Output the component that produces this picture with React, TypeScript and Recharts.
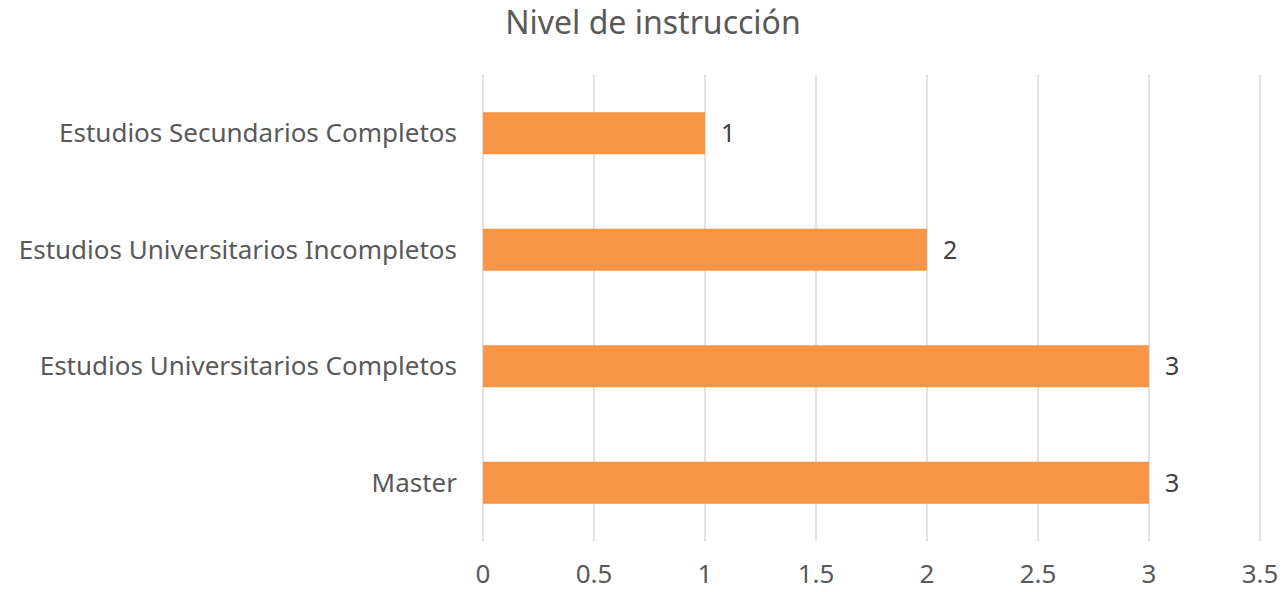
import * as React from "react"
import { BarChart, Bar, XAxis, YAxis, CartesianGrid, LabelList } from "recharts"

const CATEGORIES = [
  "Estudios Secundarios Completos",
  "Estudios Universitarios Incompletos",
  "Estudios Universitarios Completos",
  "Master",
]
const VALUES = [1, 2, 3, 3]
const X_TICKS = [0, 0.5, 1, 1.5, 2, 2.5, 3, 3.5]

const FONT = "'Noto Sans', sans-serif"

export default function App() {
  const data = CATEGORIES.map((name, i) => ({ name, value: VALUES[i] }))

  return (
    <div style={{ position: "absolute", left: 0, top: 0, width: 1286, height: 592, background: "#fff", fontFamily: FONT }}>
      <div
        style={{
          position: "absolute",
          top: 0,
          left: 0,
          width: 1306,
          textAlign: "center",
          fontSize: 32,
          lineHeight: "44px",
          color: "#595959",
        }}
      >
        Nivel de instrucción
      </div>
      <BarChart
        width={1286}
        height={592}
        data={data}
        layout="vertical"
        barCategoryGap="32%"
        margin={{ top: 75, right: 26, left: 0, bottom: 0 }}
      >
        <CartesianGrid horizontal={false} stroke="#d9d9d9" strokeWidth={1.5} />
        <XAxis
          type="number"
          domain={[0, 3.5]}
          ticks={X_TICKS}
          height={51}
          axisLine={false}
          tickLine={false}
          tickSize={0}
          tickMargin={24}
          interval={0}
          tick={{ fill: "#595959", fontSize: 26, fontFamily: FONT }}
        />
        <YAxis
          type="category"
          dataKey="name"
          width={483}
          axisLine={false}
          tickLine={false}
          tickSize={0}
          tickMargin={26}
          tick={{ fill: "#595959", fontSize: 26, fontFamily: FONT }}
        />
        <Bar dataKey="value" fill="#F79646" isAnimationActive={false}>
          <LabelList dataKey="value" position="right" offset={16} fill="#404040" fontSize={25} fontFamily={FONT} />
        </Bar>
      </BarChart>
    </div>
  )
}
